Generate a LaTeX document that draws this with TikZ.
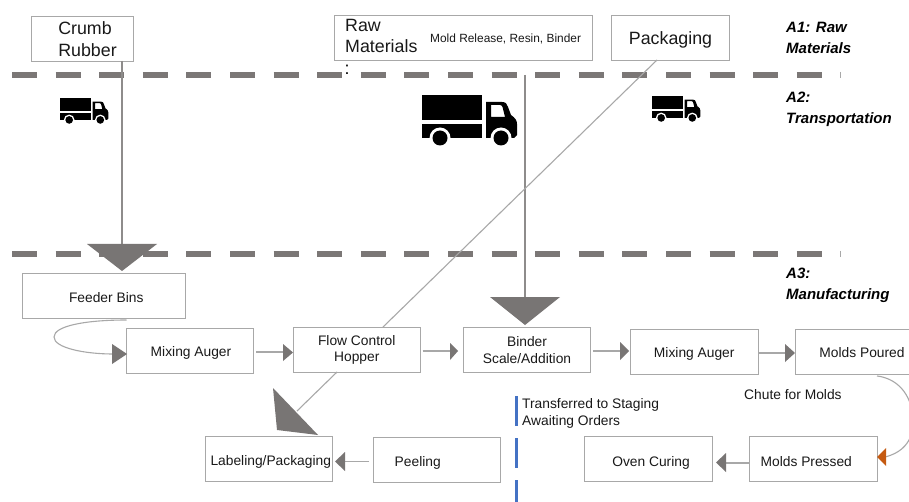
\documentclass[tikz,border=0pt]{standalone}
\usepackage{fontspec}
\setmainfont{Liberation Sans}
\definecolor{dashgray}{HTML}{7B7776}
\definecolor{boxgray}{HTML}{A8A8A8}
\definecolor{linegray}{HTML}{8E8C8B}
\definecolor{headgray}{HTML}{787574}
\definecolor{chuteorange}{HTML}{C55A11}
\definecolor{stageblue}{HTML}{4472C4}
\tikzset{
  x=1pt,y=-1pt,
  procbox/.style={draw=boxgray,line width=1pt,fill=white,inner sep=0pt,anchor=north west,align=center,text=black!90,font=\fontsize{13.8}{16.8}\selectfont,minimum height=45pt},
  topbox/.style={procbox,font=\fontsize{17.8}{21.5}\selectfont},
  drop/.style={execute at begin node={\rule{0pt}{#1}}},
  phase/.style={inner sep=0pt,anchor=north west,align=left,font=\fontsize{15}{21}\selectfont\bfseries\itshape},
  note/.style={inner sep=0pt,anchor=north west,align=left,text=black!90,font=\fontsize{13.8}{17}\selectfont},
  divider/.style={draw=dashgray,line width=6pt,dash pattern=on 25pt off 18.6pt},
  feed/.style={draw=linegray,line width=2.5pt},
  flow/.style={draw=boxgray,line width=1.1pt},
  head/.style={fill=headgray,draw=none},
}
\newcommand{\truck}[3]{% x, y, scale (large truck = 1)
  \begin{scope}[shift={(#1,#2)},scale=#3,x=1pt,y=-1pt]
    \fill[black] (0,0) rectangle (60,25);
    \fill[black] (0,29) rectangle (60,43);
    \fill[white] (18,43) circle (10.5);
    \fill[black] (18,43) circle (7.5);
    \fill[black,even odd rule] (64,7) -- (80,7) .. controls (84,7) and (85,9) .. (86,12) -- (89,20) .. controls (93,23) and (95,25) .. (95,29) -- (95,40) -- (92,43) -- (64,43) -- cycle
      (69,10) -- (69,22) -- (83,22) -- (80.5,12) .. controls (80,10.5) and (79,10) .. (78,10) -- cycle;
    \fill[white] (79,43) circle (10.5);
    \fill[black] (79,43) circle (7.5);
  \end{scope}
}
\begin{document}
\begin{tikzpicture}
\useasboundingbox (0,0) rectangle (909,502);
\fill[white] (0,0) rectangle (909,502);
\begin{scope}
\clip (0,0) rectangle (909,502);
% dividers
\coordinate (d1a) at (12,75); \coordinate (d1b) at (825,75);
\coordinate (d2a) at (12,254); \coordinate (d2b) at (825,254);
\path[divider] (d1a) -- (d1b);
\path[divider] (d2a) -- (d2b);
\coordinate (t1a) at (840,72); \coordinate (t1b) at (840,78);
\coordinate (t2a) at (840,251); \coordinate (t2b) at (840,257);
\draw[boxgray,line width=.5pt] (t1a) -- (t1b) (t2a) -- (t2b);
% boxes
\node[topbox,minimum width=102pt,align=left,drop=18pt] (crumb) at (31,16) {\hspace*{10pt}Crumb\\\hspace*{10pt}Rubber};
\node[topbox,minimum width=258pt] (raw) at (334,15) {};
\node[topbox,minimum width=118pt,drop=17pt] (pack) at (611,15) {Packaging};
\node[inner sep=0pt,anchor=north west,align=left,text=black!90,font=\fontsize{17.8}{21.5}\selectfont] (rawt) at (345,19) {Raw\\Materials};
\node[inner sep=0pt,anchor=west,text=black!90,font=\fontsize{11.9}{13}\selectfont] (rawn) at (430,38.5) {Mold Release, Resin, Binder};
\node[inner sep=0pt,anchor=center,font=\fontsize{17.8}{20}\selectfont] (colon) at (347,70) {:};
\node[procbox,minimum width=163.5pt,drop=13pt] (feeder) at (21.5,273) {\hspace*{5pt}Feeder Bins};
\node[procbox,minimum width=127pt,drop=14pt] (mix1) at (126,328) {\hspace*{2pt}Mixing Auger};
\node[procbox,minimum width=127.5pt,drop=16pt] (hopper) at (292.5,327) {Flow Control\\Hopper};
\node[procbox,minimum width=127pt,drop=12pt] (binder) at (463,327) {Binder\\Scale/Addition};
\node[procbox,minimum width=127.5pt,drop=14pt] (mix2) at (630,329) {Mixing Auger};
\node[procbox,minimum width=130pt,drop=12pt] (poured) at (795,329) {\hspace*{3pt}Molds Poured};
\node[procbox,minimum width=127.5pt,drop=15pt] (label) at (204.5,436) {\hspace*{4pt}Labeling/Packaging};
\node[procbox,minimum width=127.5pt,drop=15pt] (peel) at (372.5,437) {Peeling\hspace*{38pt}};
\node[procbox,minimum width=128pt,drop=17pt] (oven) at (584,436) {\hspace*{5pt}Oven Curing};
\node[procbox,minimum width=127.5pt,drop=15pt] (pressed) at (749,436) {Molds Pressed\hspace*{14pt}};
% free ends of connectors
\coordinate (crumbo) at (122,61); \coordinate (crumbi) at (122,245);
\coordinate (rawo) at (525,75); \coordinate (rawi) at (525,298);
\coordinate (packo) at (657,60); \coordinate (hopt) at (383,327);
\coordinate (hopb) at (337,372); \coordinate (labi) at (297,411);
\draw[feed] (crumbo) -- (crumbi);
\draw[feed] (rawo) -- (rawi);
\draw[flow] (packo) -- (hopt);
\draw[flow] (hopb) -- (labi);
\path[head] (87,244) -- (157,244) -- (122,271) -- cycle;
\path[head] (490,297) -- (560,297) -- (525,325) -- cycle;
\path[head] (273,388) -- (277,430) -- (318,435) -- cycle;
% curved feeder
\coordinate (fb) at (126.5,320); \coordinate (mi) at (113,354);
\draw[flow] (fb) .. controls (85,320) and (54,326) .. (54,337) .. controls (54,348) and (85,354) .. (mi);
\path[head] (112,344) -- (112,364) -- (127,354) -- cycle;
% straight flows
\coordinate (a1) at (256,352); \coordinate (a2) at (284,352);
\draw[flow] (a1) -- (a2);
\path[head] (283,344) -- (283,361) -- (293,352.5) -- cycle;
\coordinate (a3) at (422.5,351); \coordinate (a4) at (450,351);
\draw[flow] (a3) -- (a4);
\path[head] (450,343) -- (450,360) -- (458,351) -- cycle;
\coordinate (a5) at (593,351); \coordinate (a6) at (620,351);
\draw[flow] (a5) -- (a6);
\path[head] (620,342) -- (620,360) -- (629,351) -- cycle;
\coordinate (a7) at (758,353); \coordinate (a8) at (786,353);
\draw[flow] (a7) -- (a8);
\path[head] (785,344) -- (785,362) -- (795,353) -- cycle;
\coordinate (a9) at (749,463); \coordinate (a10) at (726,463);
\draw[flow] (a9) -- (a10);
\path[head] (726,453) -- (726,472) -- (716,462.5) -- cycle;
\coordinate (a11) at (369,461.5); \coordinate (a12) at (345,461.5);
\draw[flow] (a11) -- (a12);
\path[head] (345,452) -- (345,471) -- (335,461.5) -- cycle;
% chute
\coordinate (c1) at (877,376); \coordinate (c2) at (885,457);
\draw[flow] (c1) .. controls (895,378) and (912,392) .. (913,420) .. controls (914,438) and (905,452) .. (c2);
\fill[chuteorange] (886,448) -- (886,466) -- (877,457) -- cycle;
% blue line
\coordinate (b1) at (516,396); \coordinate (b2) at (516,502);
\draw[stageblue,line width=3pt,dash pattern=on 30pt off 12pt] (b1) -- (b2);
% text
\node[note] (stage) at (522,398.5) {Transferred to Staging\\Awaiting Orders};
\node[note] (chute) at (744,389.5) {Chute for Molds};
\node[phase] (pa1) at (786,22) {A1: Raw\\Materials};
\node[phase] (pa2) at (786,92) {A2:\\Transportation};
\node[phase] (pa3) at (786,268) {A3:\\Manufacturing};
% trucks
\truck{60}{98}{0.51}
\truck{422}{95}{1}
\truck{652}{96}{0.51}
\end{scope}
\end{tikzpicture}
\end{document}
